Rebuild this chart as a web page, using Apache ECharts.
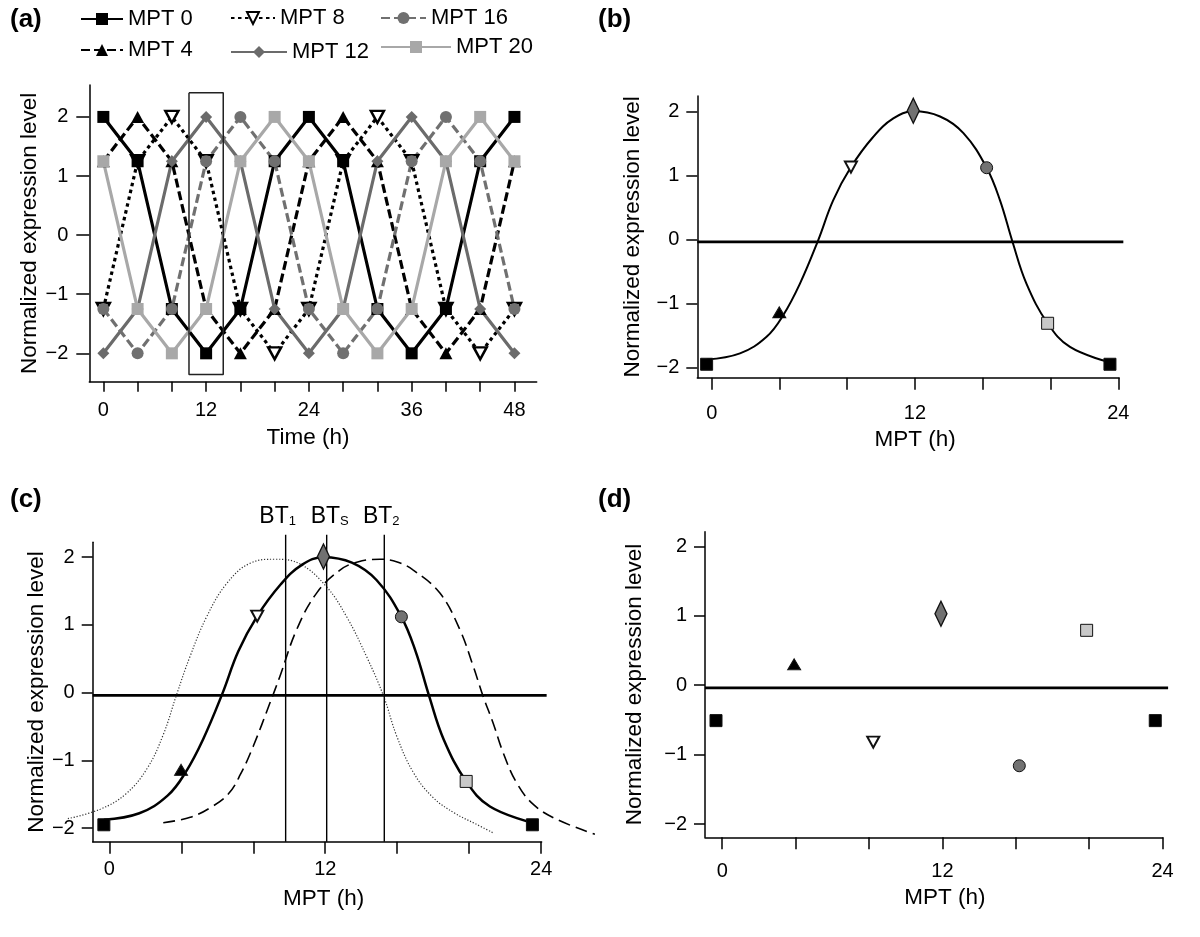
<!DOCTYPE html>
<html><head><meta charset="utf-8">
<script src="https://cdn.jsdelivr.net/npm/echarts@6/dist/echarts.min.js"></script>
<style>html,body{margin:0;padding:0;background:#fff}#c{width:1200px;height:937px}</style>
</head><body><div id="c"></div><script>
// ---------- DATA ----------
const timeA = [0,4,8,12,16,20,24,28,32,36,40,44,48];
const mpt0  = [2, 1.25, -1.25, -2, -1.25, 1.25, 2, 1.25, -1.25, -2, -1.25, 1.25, 2];
const mpt4  = [1.25, 2, 1.25, -1.25, -2, -1.25, 1.25, 2, 1.25, -1.25, -2, -1.25, 1.25];
const mpt8  = [-1.25, 1.25, 2, 1.25, -1.25, -2, -1.25, 1.25, 2, 1.25, -1.25, -2, -1.25];
const mpt12 = [-2, -1.25, 1.25, 2, 1.25, -1.25, -2, -1.25, 1.25, 2, 1.25, -1.25, -2];
const mpt16 = [-1.25, -2, -1.25, 1.25, 2, 1.25, -1.25, -2, -1.25, 1.25, 2, 1.25, -1.25];
const mpt20 = [1.25, -1.25, -2, -1.25, 1.25, 2, 1.25, -1.25, -2, -1.25, 1.25, 2, 1.25];
const windowT = [10, 14, 14, 10, 10];
const windowV = [2.41, 2.41, -2.36, -2.36, 2.41];

const mptX  = [-0.3, 3.99, 8.22, 11.9, 16.23, 19.83, 23.51];
const mptYb = [-1.95, -1.14, 1.13, 2.01, 1.12, -1.31, -1.95];
const mptXd = [-0.34, 3.92, 8.23, 11.92, 16.19, 19.86, 23.6];
const mptYd = [-0.51, 0.30, -0.82, 1.03, -1.16, 0.79, -0.51];

const fitX = [-0.3, 1.67, 3.24, 4.23, 5.21, 6.29, 7.17, 8.22, 9.53, 10.72, 11.9, 13.48, 14.86, 16.23, 17.02, 17.76, 18.58, 19.83, 21.15, 23.51];
const fitY = [-1.875, -1.78, -1.52, -1.18, -0.69, -0.01, 0.61, 1.13, 1.60, 1.89, 2.0, 1.92, 1.66, 1.12, 0.61, -0.04, -0.69, -1.31, -1.68, -1.92];
const bt1X = [-2.3, -0.5, 0.9, 2.1, 3.0, 3.74, 4.48, 5.41, 6.52, 7.82, 9.2, 10.6, 12.08, 13.19, 14.3, 15.24, 15.97, 16.9, 18.0, 19.2, 20.3, 21.33];
const bt1Y = [-1.86, -1.72, -1.5, -1.12, -0.62, -0.03, 0.53, 1.12, 1.61, 1.91, 1.97, 1.90, 1.56, 1.12, 0.53, -0.05, -0.64, -1.18, -1.55, -1.78, -1.93, -2.07];
const bt2X = [3.0, 4.5, 5.6, 6.6, 7.3, 8.0, 8.93, 9.48, 10.41, 11.52, 12.82, 13.8, 15.04, 16.0, 16.89, 18.37, 19.48, 20.22, 20.78, 21.33, 21.89, 22.63, 23.56, 24.86, 26.98];
const bt2Y = [-1.92, -1.84, -1.7, -1.5, -1.2, -0.79, -0.15, 0.24, 0.93, 1.47, 1.81, 1.93, 1.97, 1.93, 1.81, 1.47, 0.93, 0.39, -0.06, -0.45, -0.89, -1.33, -1.65, -1.87, -2.09];
const btTimes = [9.8, 12.08, 15.28];
const btNames = ['{b|BT}{s|1}', '{b|BT}{s|S}', '{b|BT}{s|2}'];
const btRange = [-2.2, 2.33];
const zeroLevel = -0.04;
const zeroEnd = 24.3;

const tickA = [0,4,8,12,16,20,24,28,32,36,40,44,48];
const labelA = [0,12,24,36,48];
const tickB = [0,4,8,12,16,20,24];
const labelB = [0,12,24];
const tickY = [-2,-1,0,1,2];

// ---------- STYLE / LAYOUT ----------
const FONT = 'Liberation Sans';
const zip = (xs, ys) => xs.map((x, i) => [x, ys[i]]);
const fmt = v => (v < 0 ? '\u2212' + Math.abs(v) : String(v));

const gridsPx = [
  {left: 89.3, top: 85, width: 447.4, height: 296.7},
  {left: 697.3, top: 96, width: 421.8, height: 281.7},
  {left: 92.7, top: 542.3, width: 448.9, height: 299.4},
  {left: 705, top: 531.7, width: 457.6, height: 305.6}
];
const xr = [[-1.64, 50.6], [-0.85, 24.05], [-0.92, 24.02], [-0.94, 24.0]];
const yr = [[-2.48, 2.54], [-2.16, 2.24], [-2.2, 2.22], [-2.19, 2.21]];
// overlay (unclipped) drawing areas for panels b, c, d: same scale, wider range
const ovX = [-2.6, 27.3], ovY = [-2.5, 2.5];
function overlayGrid(gi) {
  const g = gridsPx[gi];
  const sx = g.width / (xr[gi][1] - xr[gi][0]);
  const sy = g.height / (yr[gi][1] - yr[gi][0]);
  return {
    left: g.left + (ovX[0] - xr[gi][0]) * sx,
    width: (ovX[1] - ovX[0]) * sx,
    top: g.top - (ovY[1] - yr[gi][1]) * sy,
    height: (ovY[1] - ovY[0]) * sy
  };
}
const allGrids = gridsPx.concat([overlayGrid(1), overlayGrid(2), overlayGrid(3)]);
const OV = {1: 4, 2: 5, 3: 6};

const xNames = ['Time (h)', 'MPT (h)', 'MPT (h)', 'MPT (h)'];
const xNameGap = [45, 51, 46, 49];
const xNamePad = [[0,10,0,0],[0,0,0,14],[0,0,0,13],[0,0,0,22]];
const xLabMargin = [19, 26, 18, 24];
const yNameGap = [37, 53, 43, 59];
const yLabMargin = [21, 18, 18, 18];
const TICKFS = 20, NAMEFS = 22.5;
const btLabelShift = [[-8, 0], [3, 0], [-3, 0]];

const axisLine = {show: true, onZero: false, lineStyle: {color: '#000', width: 1.5}};
const xAxes = [0,1,2,3].map(i => ({
  type: 'value', gridIndex: i, min: xr[i][0], max: xr[i][1],
  name: xNames[i], nameLocation: 'middle', nameGap: xNameGap[i],
  nameTextStyle: {fontSize: NAMEFS, color: '#000', fontFamily: FONT, padding: xNamePad[i]},
  axisLine: axisLine,
  axisTick: {show: true, length: i === 0 ? 10 : 12, customValues: i === 0 ? tickA : tickB, lineStyle: {color: '#000', width: 1.5}},
  axisLabel: {show: true, customValues: i === 0 ? labelA : labelB, margin: xLabMargin[i], fontSize: TICKFS, color: '#000', fontFamily: FONT, formatter: fmt},
  splitLine: {show: false}
}));
const yAxes = [0,1,2,3].map(i => ({
  type: 'value', gridIndex: i, min: yr[i][0], max: yr[i][1],
  name: 'Normalized expression level', nameLocation: 'middle', nameGap: yNameGap[i], nameRotate: 90,
  nameTextStyle: {fontSize: NAMEFS, color: '#000', fontFamily: FONT},
  axisLine: axisLine,
  axisTick: {show: true, length: i === 0 ? 13 : 11, customValues: tickY, lineStyle: {color: '#000', width: 1.5}},
  axisLabel: {show: true, customValues: tickY, margin: yLabMargin[i], fontSize: TICKFS, color: '#000', fontFamily: FONT, formatter: fmt},
  splitLine: {show: false}
}));
[4, 5, 6].forEach(gi => {
  xAxes.push({type: 'value', gridIndex: gi, min: ovX[0], max: ovX[1], show: false, splitLine: {show: false}});
  yAxes.push({type: 'value', gridIndex: gi, min: ovY[0], max: ovY[1], show: false, splitLine: {show: false}});
});

// Panel (a) series, drawn in this stacking order
const aSeries = [
  {name: 'MPT 8', data: mpt8, color: '#000', fill: '#fff', bw: 2.5, dash: [3.5, 3.5], symbol: 'triangle', rot: 180, size: [13, 12]},
  {name: 'MPT 0', data: mpt0, color: '#000', fill: '#000', bw: 0, dash: 'solid', symbol: 'rect', rot: 0, size: 12},
  {name: 'MPT 4', data: mpt4, color: '#000', fill: '#000', bw: 0, dash: [9, 4], symbol: 'triangle', rot: 0, size: [13, 12]},
  {name: 'MPT 12', data: mpt12, color: '#6b6b6b', fill: '#6b6b6b', bw: 0, dash: 'solid', symbol: 'diamond', rot: 0, size: 12},
  {name: 'MPT 16', data: mpt16, color: '#707070', fill: '#707070', bw: 0, dash: [9, 4], symbol: 'circle', rot: 0, size: 12},
  {name: 'MPT 20', data: mpt20, color: '#a8a8a8', fill: '#a8a8a8', bw: 0, dash: 'solid', symbol: 'rect', rot: 0, size: 12}
];
const series = [];
aSeries.forEach(s => {
  series.push({
    type: 'line', name: s.name, xAxisIndex: 0, yAxisIndex: 0,
    data: zip(timeA, s.data), symbol: s.symbol, symbolSize: s.size, symbolRotate: s.rot, showSymbol: true,
    lineStyle: {color: s.color, width: 3.2, type: s.dash},
    itemStyle: {color: s.fill, borderColor: s.color, borderWidth: s.bw, opacity: 1},
    emphasis: {disabled: true}, animation: false
  });
});
series.push({
  type: 'line', name: 'window', xAxisIndex: 0, yAxisIndex: 0, data: zip(windowT, windowV),
  showSymbol: false, symbol: 'none', lineStyle: {color: '#222', width: 1.5}, emphasis: {disabled: true}, animation: false, z: 5
});

// Markers for panels b-d
const mk = [
  {symbol: 'rect', size: 12, fill: '#000', rot: 0, bw: 1},
  {symbol: 'triangle', size: [13, 11], fill: '#000', rot: 0, bw: 1},
  {symbol: 'triangle', size: [12, 11], fill: '#fff', rot: 180, bw: 2},
  {symbol: 'diamond', size: [12, 25], fill: '#717171', rot: 0, bw: 1.5},
  {symbol: 'circle', size: 12, fill: '#727272', rot: 0, bw: 1},
  {symbol: 'rect', size: 12, fill: '#c8c8c8', rot: 0, bw: 1},
  {symbol: 'rect', size: 12, fill: '#000', rot: 0, bw: 1}
];
function markers(gi, xs, ys) {
  return {
    type: 'scatter', xAxisIndex: gi, yAxisIndex: gi, z: 10, animation: false, emphasis: {disabled: true},
    data: xs.map((x, i) => ({
      value: [x, ys[i]], symbol: mk[i].symbol, symbolSize: mk[i].size, symbolRotate: mk[i].rot,
      itemStyle: {color: mk[i].fill, borderColor: '#111', borderWidth: mk[i].bw, opacity: 1}
    }))
  };
}
function curve(oi, xs, ys, width, type, color) {
  return {
    type: 'line', xAxisIndex: oi, yAxisIndex: oi, data: zip(xs, ys), smooth: 0.4, clip: false,
    showSymbol: false, symbol: 'none', lineStyle: {color: color || '#000', width: width, type: type},
    emphasis: {disabled: true}, animation: false, z: 3
  };
}
function zeroLine(gi) {
  const oi = OV[gi];
  return {
    type: 'line', xAxisIndex: oi, yAxisIndex: oi, data: [[xr[gi][0], zeroLevel], [zeroEnd, zeroLevel]],
    clip: false, showSymbol: false, symbol: 'none', lineStyle: {color: '#000', width: 2.8},
    emphasis: {disabled: true}, animation: false, z: 2
  };
}
// (b)
series.push(zeroLine(1));
series.push(curve(OV[1], fitX, fitY, 2, 'solid'));
series.push(markers(1, mptX, mptYb));
// (c)
series.push(zeroLine(2));
series.push(curve(OV[2], bt1X, bt1Y, 1.2, [1.2, 1.8], '#333'));
series.push(curve(OV[2], bt2X, bt2Y, 1.6, [12, 6]));
series.push(curve(OV[2], fitX, fitY, 2.5, 'solid'));
btTimes.forEach((t, i) => {
  series.push({
    type: 'line', xAxisIndex: OV[2], yAxisIndex: OV[2], clip: false, showSymbol: false, symbol: 'none',
    data: [[t, btRange[0]], [t, btRange[1]]],
    lineStyle: {color: '#000', width: 1.4}, emphasis: {disabled: true}, animation: false, z: 4
  });
});
series.push({
  type: 'scatter', xAxisIndex: OV[2], yAxisIndex: OV[2], clip: false, animation: false, emphasis: {disabled: true},
  symbol: 'circle', symbolSize: 1, itemStyle: {color: '#fff', opacity: 1, borderWidth: 0}, z: 1,
  data: btTimes.map((t, i) => ({value: [t, btRange[1]], label: {show: true, formatter: btNames[i], offset: btLabelShift[i]}})),
  label: {
    show: true, position: 'top', distance: 6, color: '#000', opacity: 1,
    rich: {b: {fontSize: 23, fontFamily: FONT, color: '#000', lineHeight: 24, verticalAlign: 'bottom'},
           s: {fontSize: 13, fontFamily: FONT, color: '#000', lineHeight: 11, verticalAlign: 'bottom'}}
  }
});
series.push(markers(2, mptX, mptYb));
// (d)
series.push(zeroLine(3));
series.push(markers(3, mptXd, mptYd));

// Legends for panel (a)
const legendItems = [
  {name: 'MPT 0', left: 80, top: 8, w: 42},
  {name: 'MPT 8', left: 230, top: 7, w: 44},
  {name: 'MPT 16', left: 380, top: 7, w: 45},
  {name: 'MPT 4', left: 80, top: 39, w: 42},
  {name: 'MPT 12', left: 230, top: 41, w: 56},
  {name: 'MPT 20', left: 380, top: 36, w: 70}
];
const legends = legendItems.map(l => ({
  data: [l.name], left: l.left, top: l.top, padding: 0, itemWidth: l.w, itemHeight: 15,
  selectedMode: false, symbolRotate: 'inherit',
  textStyle: {fontSize: 22, color: '#000', fontFamily: FONT}
}));

const panelTags = [['(a)', 10, 7], ['(b)', 598, 7], ['(c)', 10, 487], ['(d)', 598, 487]];

const chart = echarts.init(document.getElementById('c'), null, {renderer: 'canvas'});
chart.setOption({
  backgroundColor: '#fff',
  animation: false,
  textStyle: {fontFamily: FONT},
  grid: allGrids.map(g => Object.assign({containLabel: false, outerBoundsMode: 'none', show: false}, g)),
  xAxis: xAxes,
  yAxis: yAxes,
  legend: legends,
  series: series,
  graphic: panelTags.map(p => ({
    type: 'text', left: p[1], top: p[2],
    style: {text: p[0], fontSize: 26, fontWeight: 'bold', fontFamily: FONT, fill: '#000'}
  }))
});
</script></body></html>
